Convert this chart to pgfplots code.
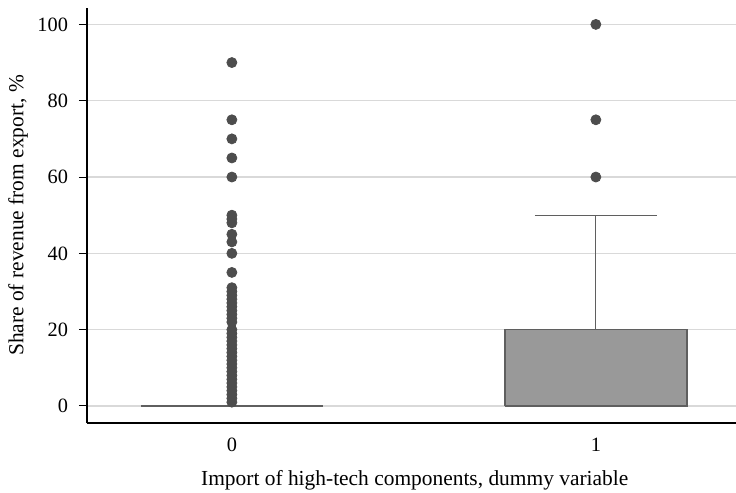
\documentclass[border=0pt]{standalone}
\usepackage{pgfplots}
\pgfplotsset{compat=1.18}
\usepackage{fontspec}
\setmainfont{Liberation Serif}
\definecolor{dotc}{HTML}{4D4D4D}
\definecolor{boxfill}{HTML}{999999}
\definecolor{boxdraw}{HTML}{5F5F5F}
\definecolor{gridc}{HTML}{D9D9D9}
\begin{document}
\begin{tikzpicture}
\begin{axis}[
  at={(0,0)}, anchor=south west,
  width=324.5bp, height=207.5bp, scale only axis,
  xmin=-0.398, xmax=1.385, ymin=-4.46, ymax=104.3,
  axis lines*=left,
  axis line style={-, black, line width=0.8bp},
  xtick={0,1}, xticklabels={0,1},
  x tick style={draw=none},
  ytick={0,20,40,60,80,100},
  y tick style={black, line width=0.5bp},
  tick align=outside, major tick length=4bp,
  ymajorgrids, grid style={gridc, line width=0.6bp},
  /pgf/number format/assume math mode=true,
  tick label style={font=\fontsize{10.2}{12}\selectfont},
  yticklabel style={xshift=-2bp},
  label style={font=\fontsize{10.75}{12}\selectfont},
  ylabel={Share of revenue from export, \%},
  ylabel style={at={(axis description cs:-0.106,0.5)}, anchor=center},
  xlabel={Import of high-tech components, dummy variable},
  xlabel style={at={(axis description cs:0.505,-0.137)}, anchor=center},
]
% group 1: box Q1=0, Q3=20, whisker to 50
\addplot[fill=boxfill, draw=boxdraw, line width=0.7bp] coordinates {(0.75,0) (1.25,0) (1.25,20) (0.75,20) (0.75,0)};
\addplot[draw=boxdraw, line width=0.6bp] coordinates {(1,20) (1,50)};
\addplot[draw=boxdraw, line width=0.6bp] coordinates {(0.8325,50) (1.1675,50)};
% group 0: box, whiskers and median all at 0
\addplot[draw=boxdraw, line width=0.7bp] coordinates {(-0.25,0) (0.25,0)};
% outliers
\addplot[only marks, mark=*, mark size=2.5bp, mark options={fill=dotc, draw=dotc}]
  coordinates {(0,90) (0,75) (0,70) (0,65) (0,60) (0,50) (0,49) (0,48) (0,45) (0,43) (0,40) (0,35)
  (0,31) (0,30) (0,29) (0,28) (0,27) (0,26) (0,25) (0,24) (0,23) (0,22) (0,20) (0,19) (0,18) (0,17)
  (0,16) (0,15) (0,14) (0,13) (0,12) (0,11) (0,10) (0,9) (0,8) (0,7) (0,6) (0,5) (0,4) (0,3) (0,2) (0,1)
  (1,60) (1,75) (1,100)};
\end{axis}
\pgfresetboundingbox
\useasboundingbox (-43.5bp,-35bp) rectangle (324.5bp,211.5bp);
\end{tikzpicture}
\end{document}
